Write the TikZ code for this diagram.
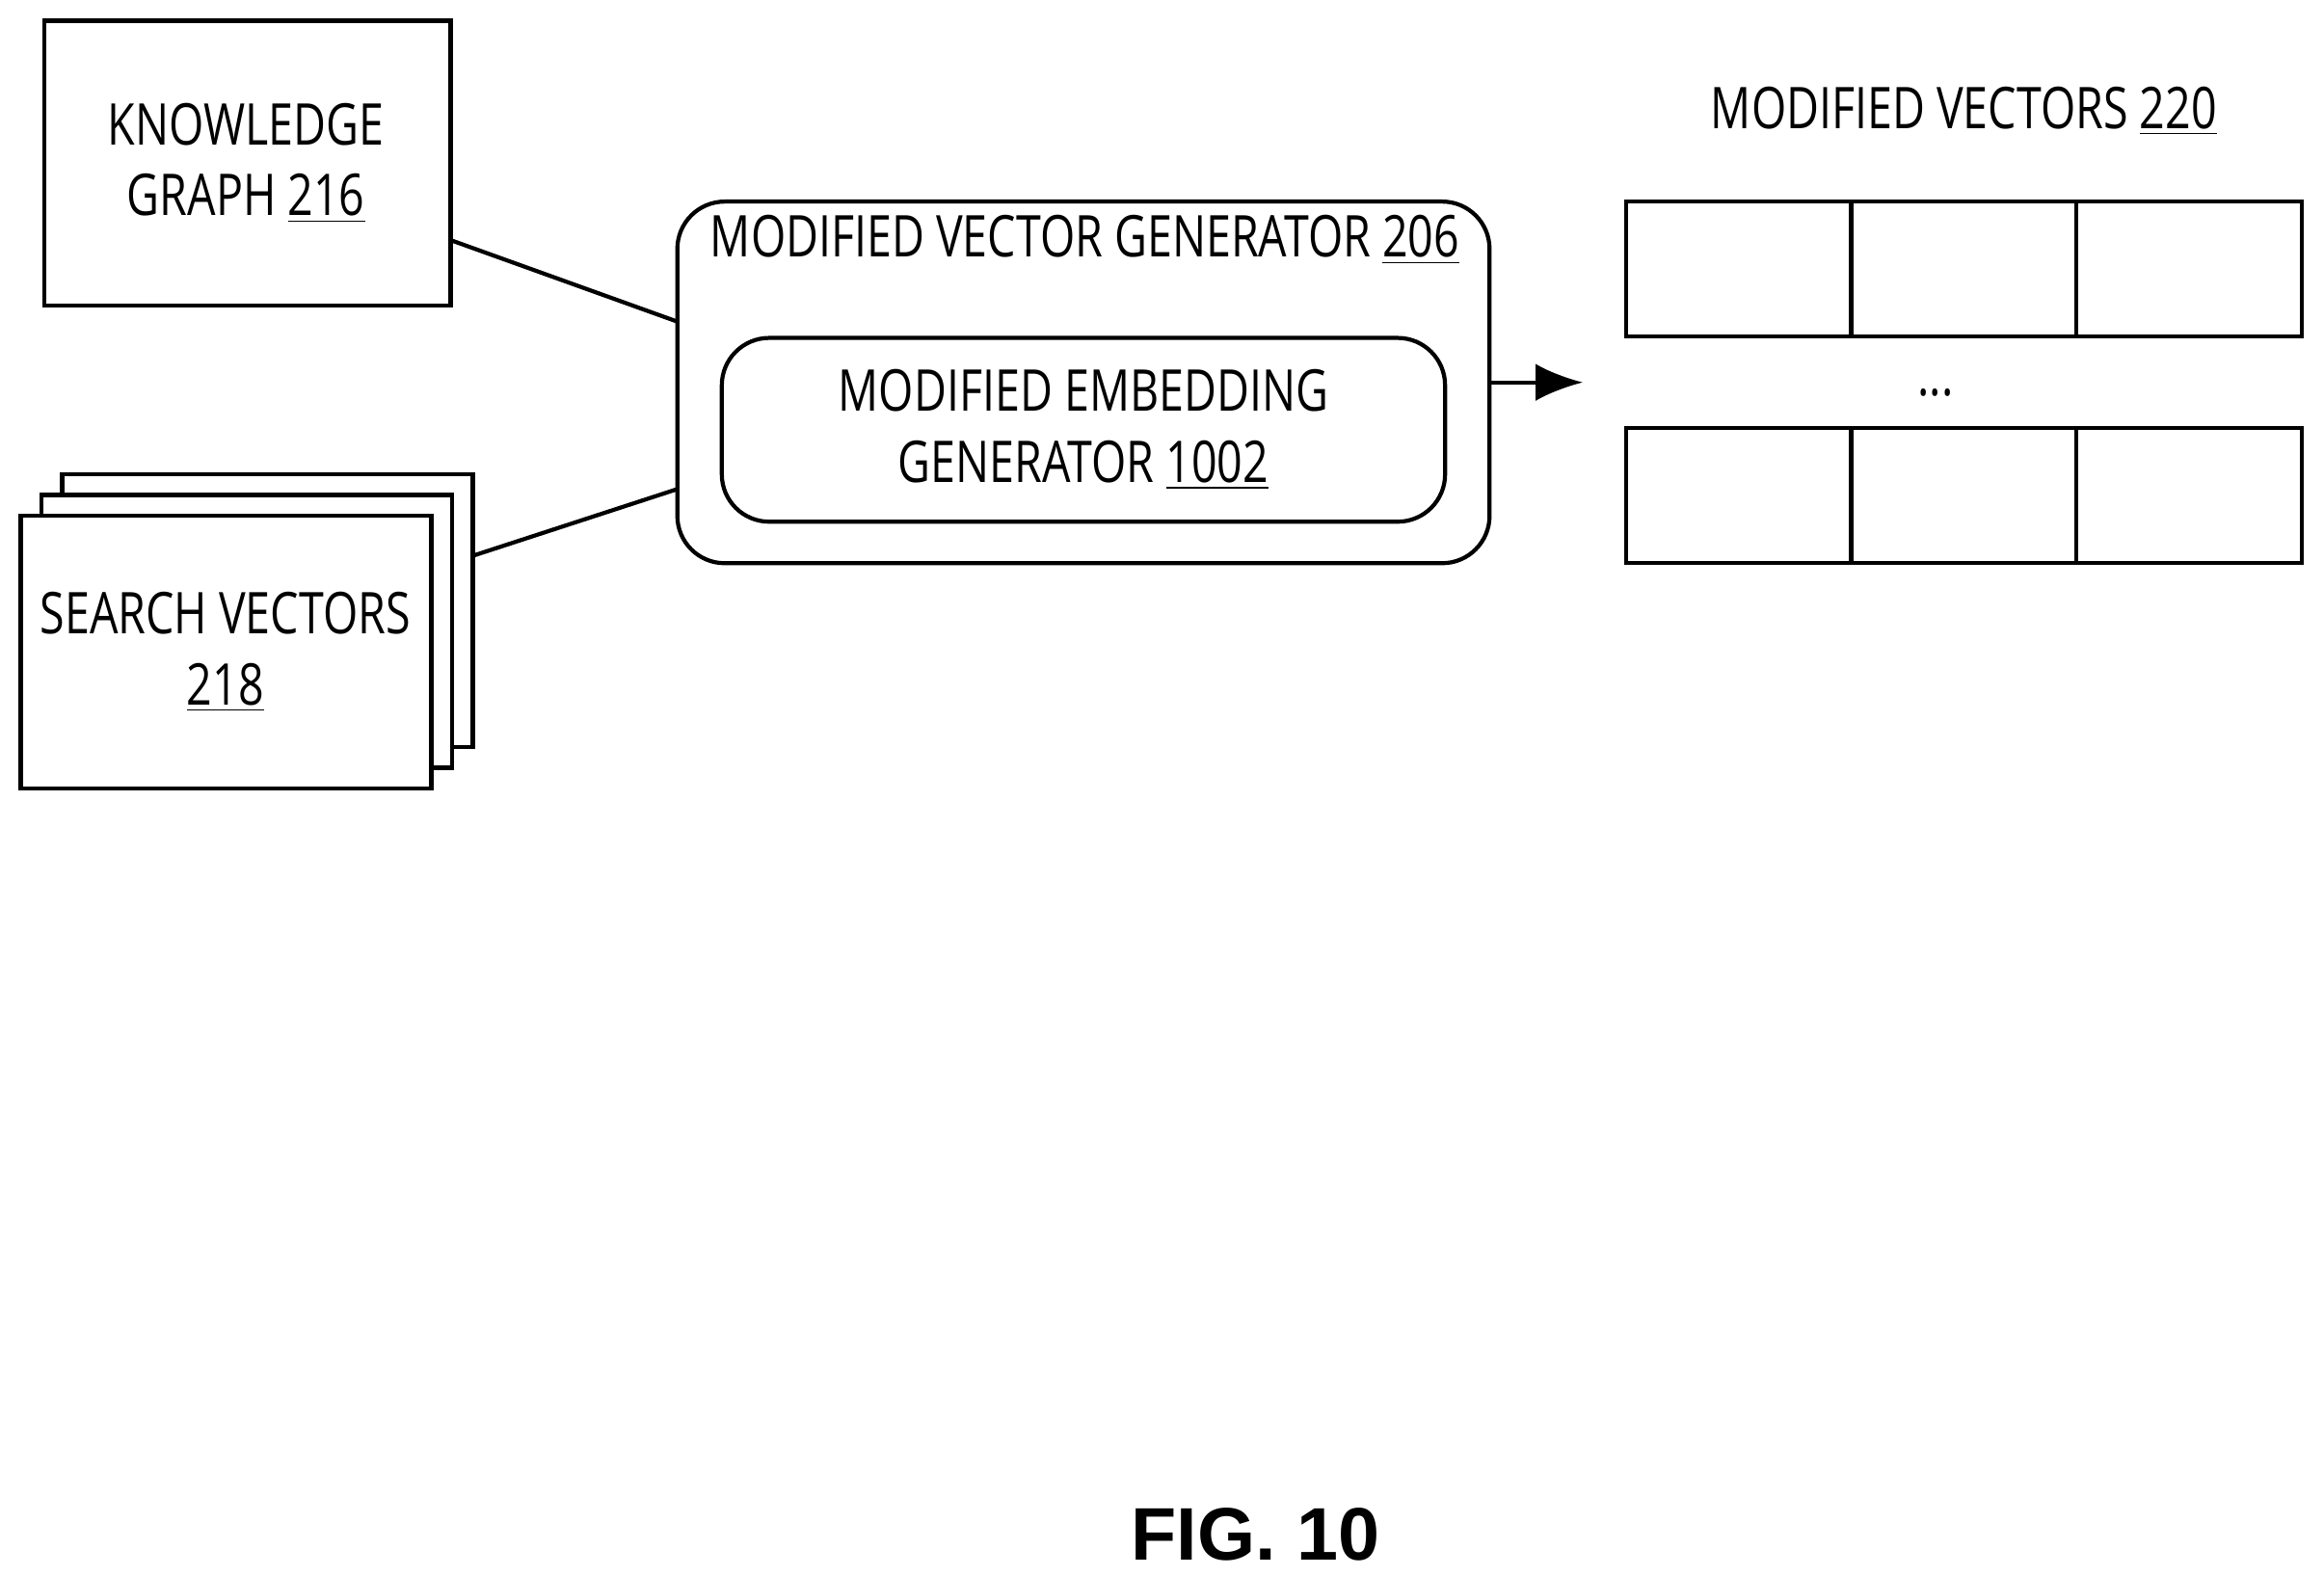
\documentclass[tikz,border=0pt]{standalone}
\usepackage{fontspec}
\setmainfont[FakeStretch=0.78]{Open Sans}
\newfontfamily\capfont{Liberation Sans}
\usetikzlibrary{positioning,arrows.meta}

\begin{document}
\begin{tikzpicture}[x=0.015376cm, y=-0.015376cm]
	\tikzset{Box/.style = {draw, line width=1.2pt, fill=white},
		Round/.style = {Box, rounded corners=14pt},
		Label/.style = {font=\fontsize{17}{21}\selectfont, align=center},
		Link/.style = {line width=1.2pt}}
	\useasboundingbox (0,0) rectangle (1568,1063);

	% inputs
	\draw [Box] (30,14) rectangle (304,206);
	\node (kg) at (166,110) [Label] {KNOWLEDGE\\GRAPH \underline{216}};
	\foreach \d in {28,14,0}
		\draw [Box] (14+\d,348-\d) rectangle (291+\d,532-\d);
	\node (sv) at (152,440) [Label] {SEARCH VECTORS\\\underline{218}};
	\coordinate (kgout) at (304,162);
	\coordinate (svout) at (319,375);

	% generator
	\draw [Round] (457,136) rectangle (1005,380);
	\node (gen) at (732,162) [Label] {MODIFIED VECTOR GENERATOR \underline{206}};
	\draw [Round] (487,228) rectangle (975,352);
	\node (emb) at (731,290) [Label] {MODIFIED EMBEDDING\\GENERATOR \underline{1002}};
	\coordinate (genin1) at (457,217);
	\coordinate (genin2) at (457,330);
	\coordinate (genout) at (1005,258);
	\coordinate (vecin) at (1068,258);

	\draw [Link] (kgout) -- (genin1);
	\draw [Link] (svout) -- (genin2);
	\draw [Link, -{Latex[length=14pt,width=11pt]}] (genout) -- (vecin);

	% output vectors
	\node (mv) at (1325,75) [Label] {MODIFIED VECTORS \underline{220}};
	\foreach \y in {136,289} {
		\draw [Box] (1097,\y) rectangle (1553,\y+91);
		\foreach \x in {1249,1401}
			\draw [Link] (\x,\y) -- (\x,\y+91);
	}
	\node (dots) at (1306,265) [Label] {...};

	\node (fig) at (847,1035) {\capfont\bfseries\fontsize{22}{26}\selectfont FIG. 10};
\end{tikzpicture}
\end{document}
